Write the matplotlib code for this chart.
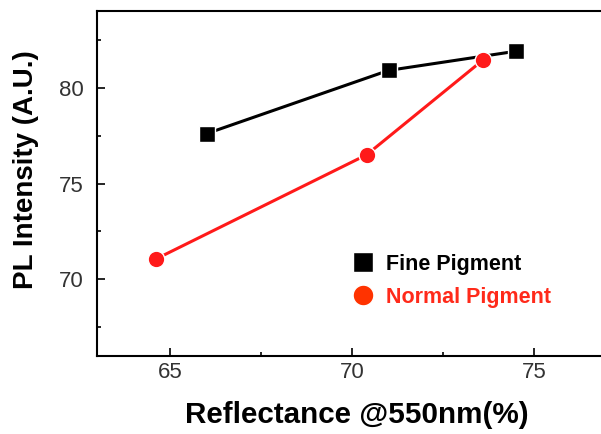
import numpy as np
import matplotlib.pyplot as plt
from matplotlib.ticker import MultipleLocator

plt.rcParams['font.family'] = ['Liberation Sans', 'DejaVu Sans']

fine_x = [66.0, 71.0, 74.5]
fine_y = [77.6, 80.9, 81.9]
normal_x = [64.6, 70.4, 73.6]
normal_y = [71.05, 76.5, 81.45]

fig = plt.figure(figsize=(6.01, 4.34), dpi=100)
ax = fig.add_axes([97.3/601, 1-356/434, 509.6/601, 345/434])

ax.plot(fine_x, fine_y, color='black', lw=2.2, marker='s', ms=12,
        markeredgecolor='white', markeredgewidth=1.0, label='Fine Pigment')
ax.plot(normal_x, normal_y, color='#ff1a1a', lw=2.2, marker='o', ms=12,
        markeredgecolor='white', markeredgewidth=1.0, label='Normal Pigment')

ax.set_xlim(63, 77)
ax.set_ylim(66, 84)
ax.xaxis.set_major_locator(MultipleLocator(5))
ax.xaxis.set_minor_locator(MultipleLocator(2.5))
ax.yaxis.set_major_locator(MultipleLocator(5))
ax.yaxis.set_minor_locator(MultipleLocator(2.5))
ax.tick_params(which='both', direction='in', top=False, right=False,
               labelsize=16, labelcolor='#333333', width=1.2)
ax.tick_params(which='major', length=6)
ax.tick_params(which='minor', length=3)
ax.tick_params(axis='x', which='major', pad=4)
ax.tick_params(axis='y', which='major', pad=10)
for s in ax.spines.values():
    s.set_linewidth(1.5)

ax.set_xlabel('Reflectance @550nm(%)', fontsize=21.3, fontweight='bold',
              labelpad=13, x=0.51)
ax.set_ylabel('PL Intensity (A.U.)', fontsize=20, fontweight='bold',
              labelpad=14, y=0.539)

leg = ax.legend(loc='upper left', bbox_to_anchor=(0.4998, 0.297), frameon=False,
                prop={'size': 15.5, 'weight': 'bold'}, handlelength=1.0,
                handletextpad=0.58, labelspacing=0.56, borderaxespad=0,
                borderpad=0, markerscale=1.25)
for h in leg.legend_handles:
    h.set_linestyle('none')
leg.legend_handles[1].set_color('#ff3300')
leg.get_texts()[1].set_color('#ff2a1a')

fig.savefig('out.png', dpi=100)
